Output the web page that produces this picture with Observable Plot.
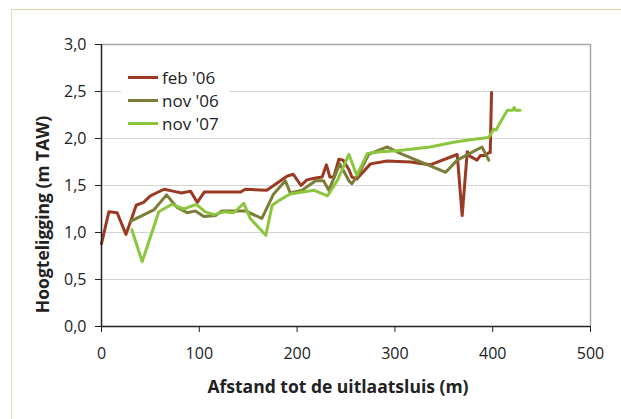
<!DOCTYPE html>
<html>
<head>
<meta charset="utf-8">
<script src="https://cdn.jsdelivr.net/npm/d3@7"></script>
<script src="https://cdn.jsdelivr.net/npm/@observablehq/plot@0.6"></script>
<style>
  html, body { margin: 0; padding: 0; background: #fff; }
  #wrap { position: relative; width: 621px; height: 419px; overflow: hidden; font-family: "Open Sans", "Noto Sans", sans-serif; }
  #frame { position: absolute; left: 11px; top: 9px; width: 620px; height: 420px; border-left: 1.5px solid #dcdcae; border-top: 1.5px solid #dcdcae; box-sizing: border-box; }
  #chart { position: absolute; left: 0; top: 0; }
  #legend { position: absolute; left: 121px; top: 63px; width: 108px; height: 74px; background: #fff; font-size: 17px; color: #222; }
  #legend .row { position: absolute; left: 7px; height: 20px; display: flex; align-items: center; }
  #legend .sw { width: 30px; height: 3px; margin-right: 4px; }
</style>
</head>
<body>
<div id="wrap">
  <div id="frame"></div>
  <div id="chart"></div>
  <div id="legend"></div>
</div>
<script>
const seriesNames = ["feb '06", "nov '06", "nov '07"];
const seriesColors = ["#9b3a22", "#7c7d36", "#8cc63f"];

const feb06X = [0,7.5,16,25,35.5,43,50,56,64,73,82,91,98,105,142,147,169,190,196,204,210,219,225.6,230,233.5,237.5,242.7,247,253,256,261,275,292,316,336,363.7,368.8,374,377,384,387.5,392.6,396,397.5,398.8];
const feb06Y = [0.88,1.22,1.21,0.98,1.29,1.32,1.39,1.42,1.46,1.44,1.42,1.44,1.32,1.43,1.43,1.46,1.45,1.60,1.62,1.50,1.56,1.58,1.59,1.72,1.59,1.59,1.78,1.77,1.67,1.59,1.57,1.73,1.76,1.75,1.72,1.83,1.18,1.86,1.81,1.77,1.82,1.82,1.85,1.85,2.49];

const nov06X = [30,53.5,66.5,77,87.6,96,104.6,116.6,123,147,164,176,188,193,205,219,227,232.5,243.7,253,256,263,273,292,306,338,352,363.7,389,396];
const nov06Y = [1.12,1.24,1.40,1.27,1.21,1.23,1.17,1.18,1.23,1.23,1.15,1.41,1.55,1.42,1.45,1.55,1.55,1.45,1.73,1.55,1.52,1.62,1.83,1.91,1.84,1.70,1.64,1.77,1.91,1.77];

const nov07X = [31,41.6,58.6,72,84,97,106,115,125,135,145.5,152,168,174.5,183,193,217,231,241,253,261,272,285,302,336,360,379,396,401,403.5,406,415,420,422,423,428];
const nov07Y = [1.03,0.69,1.22,1.30,1.25,1.30,1.22,1.19,1.22,1.21,1.31,1.15,0.97,1.29,1.35,1.41,1.45,1.39,1.55,1.83,1.61,1.84,1.86,1.87,1.91,1.96,1.99,2.01,2.10,2.09,2.14,2.30,2.30,2.33,2.30,2.30];

const xTicks = [0, 100, 200, 300, 400, 500];
const yTicks = [0, 0.5, 1.0, 1.5, 2.0, 2.5, 3.0];
const xLabel = "Afstand tot de uitlaatsluis (m)";
const yLabel = "Hoogteligging (m TAW)";

const rows = [];
[[feb06X, feb06Y], [nov06X, nov06Y], [nov07X, nov07Y]].forEach(([xs, ys], i) => {
  xs.forEach((x, j) => rows.push({series: seriesNames[i], x, y: ys[j]}));
});

const fmt = d => d3.format(".1f")(d).replace(".", ",");

const chart = Plot.plot({
  width: 621,
  height: 419,
  marginLeft: 101,
  marginRight: 31,
  marginTop: 44,
  marginBottom: 93,
  style: {fontFamily: "'Open Sans', 'Noto Sans', sans-serif", fontSize: "15px", color: "#222", background: "transparent"},
  x: {domain: [0, 500]},
  y: {domain: [0, 3]},
  color: {domain: seriesNames, range: seriesColors},
  marks: [
    Plot.ruleY(yTicks.filter(d => d > 0 && d < 3), {stroke: "#d4d4d4", strokeWidth: 1}),
    Plot.ruleY([3], {stroke: "#a8a8a8", strokeWidth: 1.5}),
    Plot.ruleX([500], {stroke: "#a8a8a8", strokeWidth: 1.5}),
    Plot.line(rows, {x: "x", y: "y", z: "series", stroke: "series", strokeWidth: 3, strokeLinejoin: "round", strokeLinecap: "round", curve: "linear"}),
    Plot.axisY({ticks: yTicks, tickFormat: fmt, tickSize: 6, tickPadding: 9, label: null, fontSize: 16}),
    Plot.axisX({ticks: xTicks, tickFormat: d => String(d), tickSize: 6, tickPadding: 15, label: null, fontSize: 16}),
    Plot.ruleX([0], {stroke: "#222", strokeWidth: 1.5}),
    Plot.ruleY([0], {stroke: "#222", strokeWidth: 1.5}),
    Plot.text([xLabel], {frameAnchor: "bottom", dx: -8, dy: 66, fontSize: 17.5, fontWeight: "bold", fill: "#222"}),
    Plot.text([yLabel], {frameAnchor: "left", textAnchor: "middle", dx: -58, dy: 29, rotate: -90, fontSize: 17.5, fontWeight: "bold", fill: "#222"})
  ]
});
document.getElementById("chart").appendChild(chart);

const legend = document.getElementById("legend");
seriesNames.forEach((name, i) => {
  const row = document.createElement("div");
  row.className = "row";
  row.style.top = (4 + i * 23) + "px";
  const sw = document.createElement("span");
  sw.className = "sw";
  sw.style.background = seriesColors[i];
  const lab = document.createElement("span");
  lab.textContent = name;
  row.appendChild(sw);
  row.appendChild(lab);
  legend.appendChild(row);
});
</script>
</body>
</html>
